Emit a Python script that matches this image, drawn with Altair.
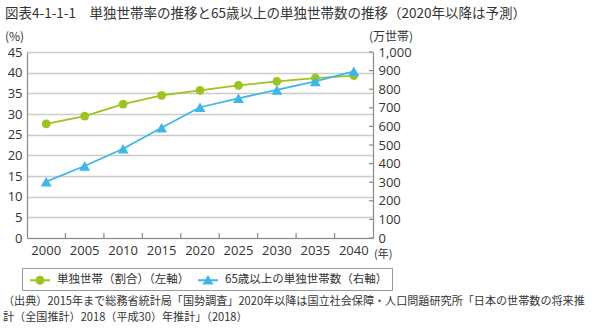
import altair as alt
import pandas as pd

# ---- data ----
years = ["2000", "2005", "2010", "2015", "2020", "2025", "2030", "2035", "2040"]
ratio = [27.6, 29.5, 32.4, 34.5, 35.7, 36.9, 37.9, 38.7, 39.3]          # 単独世帯（割合）%
elderly = [303, 387, 480, 593, 703, 751, 796, 842, 896]                 # 65歳以上の単独世帯数 万世帯
left_ticks = [0, 5, 10, 15, 20, 25, 30, 35, 40, 45]
right_ticks = [0, 100, 200, 300, 400, 500, 600, 700, 800, 900, 1000]
series_names = ["単独世帯（割合）（左軸）", "65歳以上の単独世帯数（右軸）"]

title_text = "図表4-1-1-1　単独世帯率の推移と65歳以上の単独世帯数の推移（2020年以降は予測）"
left_unit = "(%)"
right_unit = "(万世帯)"
x_unit = "(年)"
source_lines = [
    "（出典）2015年まで総務省統計局「国勢調査」2020年以降は国立社会保障・人口問題研究所「日本の世帯数の将来推",
    "計（全国推計）2018（平成30）年推計」（2018）",
]

GREEN = "#9dc41e"
BLUE = "#3fb6ea"
TXT = "#333333"
AX = "#8a8a8a"
JP = "Noto Sans CJK JP"
NUM = "Open Sans"

df = pd.DataFrame({"year": years, "ratio": ratio, "elderly": elderly})
xt = pd.DataFrame({"year": years[1:]})
rt = pd.DataFrame({"elderly": right_ticks})
leg = pd.DataFrame({"series": series_names, "year": years[:2], "elderly": elderly[:2]})

W, H = 346, 186

xscale = alt.Scale(type="band", paddingInner=0, paddingOuter=0)
xaxis = alt.Axis(title=None, ticks=False, domainColor=AX, domainWidth=1.2,
                 labelFont=NUM, labelFontSize=13, labelColor=TXT, labelPadding=6,
                 labelAngle=0, grid=False)

yl_scale = alt.Scale(domain=[0, 45], nice=False, zero=True)
yl_axis = alt.Axis(title=None, orient="left", values=left_ticks, ticks=False,
                   grid=True, gridColor="#cccccc", gridWidth=1.5,
                   domainColor=AX, domainWidth=1.2,
                   labelFont=NUM, labelFontSize=13, labelColor=TXT, labelPadding=5)

yr_scale = alt.Scale(domain=[0, 1000], nice=False, zero=True)
yr_axis = alt.Axis(title=None, orient="right", values=right_ticks, ticks=False,
                   grid=False, domainColor=AX, domainWidth=1.2, format=",d",
                   labelFont=NUM, labelFontSize=13, labelColor=TXT, labelPadding=5)

X = alt.X("year:O", scale=xscale, axis=xaxis, bandPosition=0.5)

g_line = alt.Chart(df).mark_line(color=GREEN, strokeWidth=1.8).encode(
    x=X, y=alt.Y("ratio:Q", scale=yl_scale, axis=yl_axis))
g_pts = alt.Chart(df).mark_point(filled=True, shape="circle", size=78, color=GREEN, opacity=1).encode(
    x=X, y=alt.Y("ratio:Q", scale=yl_scale, axis=yl_axis))

x_ticks = alt.Chart(xt).mark_rule(color=AX, strokeWidth=1.2).encode(
    x=alt.X("year:O", scale=xscale, axis=xaxis, bandPosition=0),
    y=alt.value(H), y2=alt.value(H - 5))


def txt(s, x, y, size, font=JP, align="left"):
    return alt.Chart(pd.DataFrame({"t": [s]})).mark_text(
        align=align, baseline="middle", font=font, fontSize=size, color=TXT
    ).encode(text="t:N", x=alt.value(x), y=alt.value(y))


texts = [
    txt(title_text, -22, -38, 13.5),
    txt(left_unit, -22, -15, 12),
    txt(right_unit, 342, -15, 12),
    txt(x_unit, 347, 203, 11),
    txt(source_lines[0], -24, 250, 11.1),
    txt(source_lines[1], -24, 266, 11.1),
]

left = alt.layer(g_line, g_pts, x_ticks, *texts)

b_line = alt.Chart(df).mark_line(color=BLUE, strokeWidth=1.8).encode(
    x=X, y=alt.Y("elderly:Q", scale=yr_scale, axis=yr_axis))
b_pts = alt.Chart(df).mark_point(filled=True, shape="triangle-up", size=120, color=BLUE, opacity=1).encode(
    x=X, y=alt.Y("elderly:Q", scale=yr_scale, axis=yr_axis))
r_ticks = alt.Chart(rt).mark_rule(color=AX, strokeWidth=1.2).encode(
    y=alt.Y("elderly:Q", scale=yr_scale, axis=yr_axis),
    x=alt.value(W - 4), x2=alt.value(W))

path_green = ("M-0.5,-0.125H2V0.125H-0.5Z "
              "M1.3125,0A0.5625,0.5625,0,1,1,0.1875,0A0.5625,0.5625,0,1,1,1.3125,0Z")
path_blue = "M-0.5,-0.125H2V0.125H-0.5Z M0.75,-0.65L1.44,0.54L0.06,0.54Z"

legend = alt.Legend(title=None, orient="none", legendX=-5, legendY=216,
                    direction="horizontal", strokeColor="#999999", padding=4,
                    labelFont=JP, labelFontSize=11.5, labelColor=TXT, labelOffset=15,
                    labelLimit=400, symbolSize=256, symbolStrokeWidth=0,
                    columnPadding=4, symbolOpacity=1)

leg_layer = alt.Chart(leg).mark_point(filled=True).encode(
    x=X,
    y=alt.Y("elderly:Q", scale=yr_scale, axis=yr_axis),
    color=alt.Color("series:N", scale=alt.Scale(domain=series_names, range=[GREEN, BLUE]), legend=legend),
    shape=alt.Shape("series:N", scale=alt.Scale(domain=series_names, range=[path_green, path_blue]), legend=legend),
).transform_filter("false")

right = alt.layer(b_line, b_pts, r_ticks, leg_layer)

chart = alt.layer(left, right).resolve_scale(y="independent").properties(
    width=W, height=H,
    autosize=alt.AutoSizeParams(type="none"),
    padding={"left": 27, "top": 52, "right": 227, "bottom": 92},
    background="white",
).configure_view(stroke=None)

chart.save("out.html", embed_options={"renderer": "svg", "actions": False})
